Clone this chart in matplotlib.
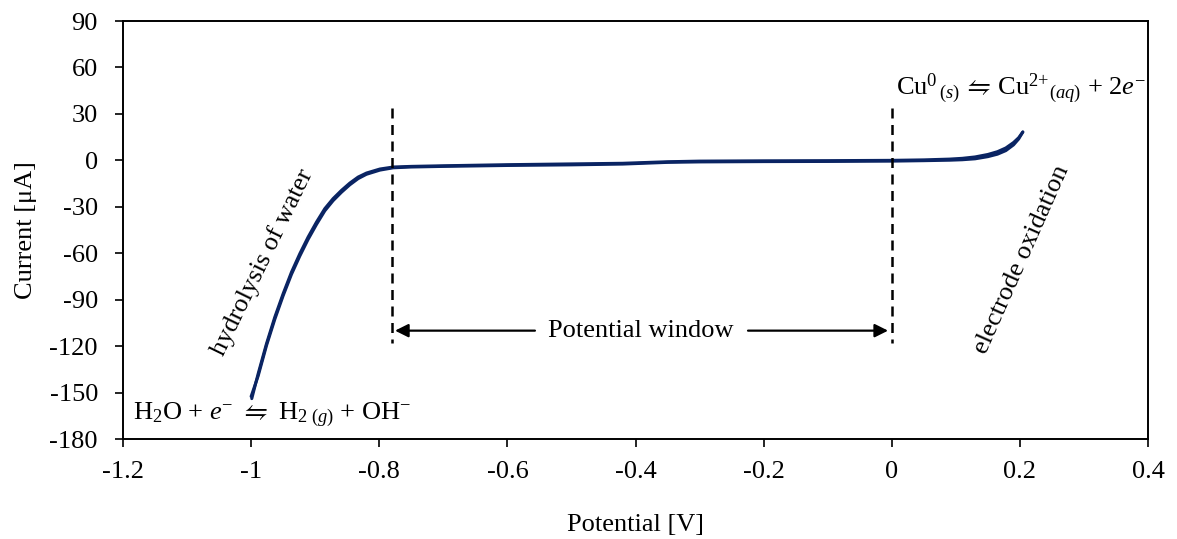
import matplotlib
matplotlib.use("Agg")
import matplotlib.pyplot as plt

plt.rcParams['font.family'] = ['Liberation Serif', 'DejaVu Serif']
plt.rcParams['mathtext.fontset'] = 'custom'
plt.rcParams['mathtext.rm'] = 'Liberation Serif'
plt.rcParams['mathtext.it'] = 'Liberation Serif:italic'
plt.rcParams['mathtext.fallback'] = 'stix'
plt.rcParams['axes.unicode_minus'] = False

# forward scan (cathodic end -> anodic end)
v_fwd = [-0.999, -0.989, -0.976, -0.963, -0.950, -0.937, -0.924, -0.911, -0.898,
         -0.885, -0.872, -0.859, -0.846, -0.833, -0.820, -0.799, -0.778, -0.75,
         -0.7, -0.6, -0.5, -0.42, -0.35, -0.3, -0.2, -0.1, 0.0, 0.05, 0.09,
         0.11, 0.13, 0.15, 0.165, 0.178, 0.19, 0.198, 0.2045]
i_fwd = [-153.9, -137.8, -118.4, -101.2, -86.1, -72.2, -60.3, -49.5, -39.9,
         -31.2, -24.7, -19.4, -14.7, -10.8, -8.2, -5.6, -4.3, -3.9,
         -3.5, -2.8, -2.3, -1.9, -0.9, -0.5, -0.3, -0.2, 0.0, 0.3, 0.8,
         1.3, 2.2, 3.8, 5.6, 8.0, 11.5, 14.6, 18.3]
# reverse scan (anodic end -> cathodic end)
v_rev = [0.2045, 0.198, 0.19, 0.178, 0.165, 0.15, 0.13, 0.11, 0.09, 0.05, 0.0,
         -0.1, -0.2, -0.3, -0.35, -0.42, -0.5, -0.6, -0.7, -0.75, -0.778,
         -0.799, -0.820, -0.833, -0.846, -0.859, -0.872, -0.885, -0.898,
         -0.911, -0.924, -0.937, -0.950, -0.963, -0.976, -0.989, -1.0]
i_rev = [18.3, 13.8, 10.0, 6.3, 4.0, 2.4, 1.0, 0.4, 0.1, -0.2, -0.5,
         -0.7, -0.8, -1.0, -1.3, -2.4, -2.9, -3.3, -3.9, -4.3, -4.8,
         -6.3, -9.0, -11.8, -15.8, -20.6, -26.0, -32.6, -41.4,
         -51.0, -61.8, -73.6, -87.4, -102.6, -119.6, -139.2, -152.5]

x_ticks = [-1.2, -1.0, -0.8, -0.6, -0.4, -0.2, 0.0, 0.2, 0.4]
x_labels = ['-1.2', '-1', '-0.8', '-0.6', '-0.4', '-0.2', '0', '0.2', '0.4']
y_ticks = [90, 60, 30, 0, -30, -60, -90, -120, -150, -180]

window = [-0.78, 0.0]

fs = 19
fig = plt.figure(figsize=(11.77, 5.39), dpi=100)
ax = fig.add_axes([0.1045, 0.1855, 0.8709, 0.7755])

line_col = '#0a2463'
ax.plot(v_fwd, i_fwd, color=line_col, lw=2.2, solid_capstyle='round')
ax.plot(v_rev, i_rev, color=line_col, lw=2.2, solid_capstyle='round')

# potential window markers
for v in window:
    ax.plot([v, v], [34, -118], color='black', lw=1.8, ls=(0, (4, 2.6)))
ax.annotate('', xy=(-0.7754, -110), xytext=(-0.557, -110),
            arrowprops=dict(arrowstyle='-|>', color='black', lw=1.6,
                            mutation_scale=20, shrinkA=0, shrinkB=0))
ax.annotate('', xy=(-0.0058, -110), xytext=(-0.2244, -110),
            arrowprops=dict(arrowstyle='-|>', color='black', lw=1.6,
                            mutation_scale=20, shrinkA=0, shrinkB=0))
ax.text(-0.3914, -110, 'Potential window', fontsize=fs, ha='center', va='center')

ax.text(-1.185, -164, r'H$_2$O + $e^{-}$ $\leftrightharpoons$ H$_{2\ (g)}$ + OH$^{-}$',
        fontsize=fs, ha='left', va='center')
ax.text(0.007, 46, r'Cu$^{0}$$_{\,(s)}$$\,\leftrightharpoons\,$Cu$^{2{+}}$$_{(aq)}$ + 2$e^{-}$',
        fontsize=fs, ha='left', va='center')
ax.text(-0.983, -66, 'hydrolysis of water', fontsize=fs, rotation=64,
        ha='center', va='center')
ax.text(0.2034, -64, 'electrode oxidation', fontsize=fs, rotation=66,
        ha='center', va='center')

ax.set_xlim(-1.2, 0.4)
ax.set_ylim(-180, 90)
ax.set_xticks(x_ticks)
ax.set_xticklabels(x_labels)
ax.set_yticks(y_ticks)
ax.tick_params(direction='out', length=6, width=1.2, labelsize=fs)
ax.tick_params(axis='y', pad=12)
ax.tick_params(axis='x', pad=10)
for s in ax.spines.values():
    s.set_linewidth(1.4)

ax.set_xlabel('Potential [V]', fontsize=fs, labelpad=22)
ax.set_ylabel('Current [μA]', fontsize=fs, labelpad=9)

fig.savefig('out.png', dpi=100)
